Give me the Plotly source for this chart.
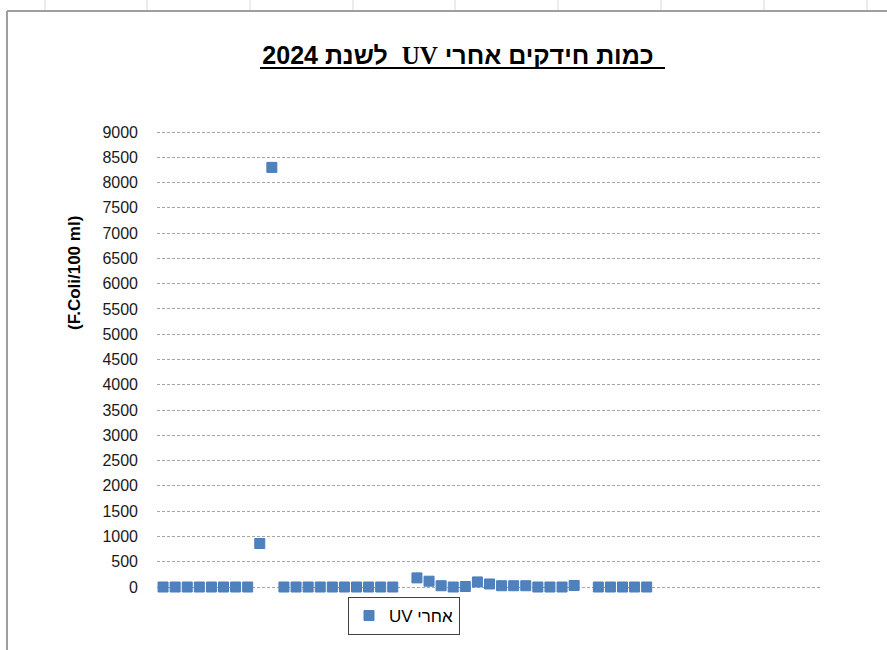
import plotly.graph_objects as go

# מספר דגימה ותוצאה (F.Coli/100 ml) אחרי UV
sample_no = list(range(1, 42))
after_uv = [0, 0, 0, 0, 0, 0, 0, 0, 860, 8300,
            0, 0, 0, 0, 0, 0, 0, 0, 0, 0,
            None, 180, 115, 25, 0, 10, 100, 60, 25, 25,
            25, 0, 0, 0, 30, None, 0, 0, 0, 0,
            0]
y_ticks = list(range(0, 9001, 500))

W, H = 887, 650
L, R = 157, 822           # plot area in pixels (x)
TOP_GRID, ZERO = 132, 587  # pixel rows of 9000 and 0
PAD = 4                    # פיקסלים מעבר לקווי הרשת הקיצוניים
T, B = TOP_GRID - PAD, ZERO + PAD
units_per_px = 9000 / (ZERO - TOP_GRID)
Y0, Y1 = -PAD * units_per_px, 9000 + PAD * units_per_px


def px_x(p):
    return (p - L) / (R - L)


def px_y(p):
    return (B - p) / (B - T)


fig = go.Figure()
fig.add_trace(go.Scatter(
    x=sample_no, y=after_uv, mode="markers",
    name="\u202bאחרי UV\u202c",
    marker=dict(symbol="square", size=10, color="#4F81BD",
                line=dict(width=1, color="#4A7EBB")),
    cliponaxis=False,
))

shapes = []
# קווי רשת של הגיליון מעל התרשים
for gx in [45, 147, 250, 353, 455, 558, 661, 764, 867]:
    shapes.append(dict(type="line", xref="paper", yref="paper",
                       x0=px_x(gx), x1=px_x(gx), y0=px_y(0), y1=px_y(11),
                       line=dict(color="#d9d9d9", width=1)))
# מסגרת התרשים
shapes.append(dict(type="line", xref="paper", yref="paper",
                   x0=px_x(7), x1=px_x(W + 5), y0=px_y(11), y1=px_y(11),
                   line=dict(color="#9e9e9e", width=2)))
shapes.append(dict(type="line", xref="paper", yref="paper",
                   x0=px_x(7), x1=px_x(7), y0=px_y(11), y1=px_y(H + 5),
                   line=dict(color="#9e9e9e", width=2)))
# קו תחתון לכותרת
shapes.append(dict(type="line", xref="paper", yref="paper",
                   x0=px_x(260), x1=px_x(665), y0=px_y(68), y1=px_y(68),
                   line=dict(color="#000000", width=2)))

fig.update_layout(
    width=W, height=H,
    margin=dict(l=L, r=W - R, t=T, b=H - B, pad=0),
    paper_bgcolor="white", plot_bgcolor="white",
    font=dict(family="Liberation Sans, Arial, sans-serif", color="#000000"),
    title=dict(
        text="<b>\u202bכמות חידקים אחרי <span style='font-family:Liberation Serif'>UV</span>  לשנת 2024\u202c</b>",
        x=458 / W, xanchor="center", y=1 - 55 / H, yanchor="middle",
        font=dict(size=25, color="#000000"),
    ),
    xaxis=dict(range=[0.5, 55.5], showticklabels=False, showgrid=False,
               zeroline=False, showline=False, ticks=""),
    yaxis=dict(range=[Y0, Y1], tickvals=y_ticks, ticktext=[str(v) for v in y_ticks],
               showgrid=True, gridcolor="#a6a6a6", griddash="3px,2px", gridwidth=1,
               zeroline=False, showline=False, ticks="",
               ticklabelstandoff=18,
               tickfont=dict(size=16, color="#1a1a1a")),
    showlegend=True,
    legend=dict(x=px_x(404), xanchor="center", y=px_y(616), yanchor="middle",
                bordercolor="#404040", borderwidth=1, bgcolor="white",
                font=dict(size=17, color="#000000"), itemwidth=30),
    annotations=[dict(text="<b>(F.Coli/100 ml)</b>", textangle=-90,
                      xref="paper", yref="paper", x=px_x(74), y=px_y(273),
                      xanchor="center", yanchor="middle", showarrow=False,
                      font=dict(size=17, color="#000000"))],
    shapes=shapes,
)

fig.write_html("out.html", config={"displayModeBar": False},
               post_script="document.body.style.margin='0';")
